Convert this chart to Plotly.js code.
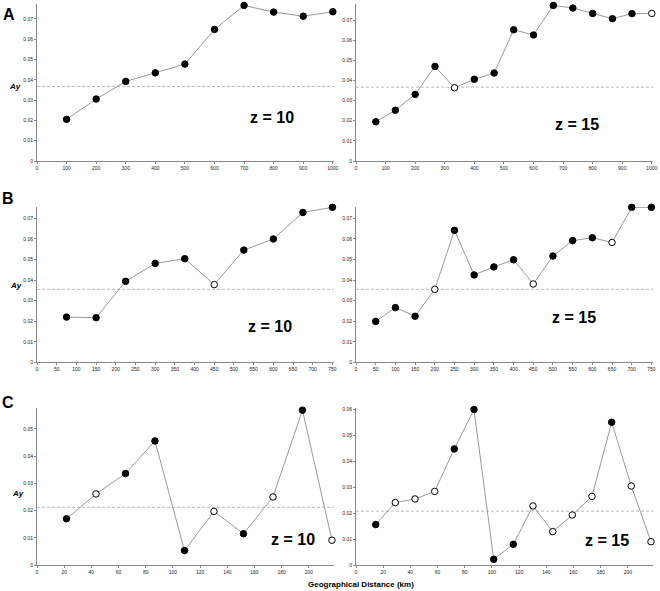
<!DOCTYPE html>
<html><head><meta charset="utf-8">
<script src="https://cdn.plot.ly/plotly-3.0.1.min.js"></script>
<style>html,body{margin:0;padding:0;background:#fff}#chart{width:660px;height:591px}</style>
</head><body><div id="chart"></div>
<script>
// ---- data ----
const xA10 = [100,200,300,400,500,600,700,800,900,1000];
const yA10 = [0.0205,0.0305,0.0392,0.0434,0.0477,0.0648,0.0766,0.0733,0.0713,0.0735];
const openA10 = [0,0,0,0,0,0,0,0,0,0];
const xA15 = [67,133,200,267,333,400,467,533,600,667,733,800,867,933,1000];
const yA15 = [0.0195,0.0252,0.0331,0.0470,0.0364,0.0406,0.0437,0.0652,0.0626,0.0773,0.0760,0.0733,0.0707,0.0732,0.0733];
const openA15 = [0,0,0,0,1,0,0,0,0,0,0,0,0,0,1];
const meanA = 0.0367;

const xB10 = [75,150,225,300,375,450,525,600,675,750];
const yB10 = [0.0220,0.0217,0.0394,0.0481,0.0504,0.0378,0.0546,0.0600,0.0729,0.0754];
const openB10 = [0,0,0,0,0,1,0,0,0,0];
const xB15 = [50,100,150,200,250,300,350,400,450,500,550,600,650,700,750];
const yB15 = [0.0199,0.0266,0.0224,0.0355,0.0642,0.0425,0.0464,0.0499,0.0381,0.0517,0.0592,0.0606,0.0583,0.0754,0.0754];
const openB15 = [0,0,0,1,0,0,0,0,1,0,0,0,1,0,0];
const meanB = 0.0355;

const xC10 = [21.7,43.4,65.1,86.8,108.5,130.2,151.9,173.6,195.3,217];
const yC10 = [0.0170,0.0261,0.0336,0.0456,0.0053,0.0197,0.0115,0.0250,0.0569,0.0091];
const openC10 = [0,1,0,0,0,1,0,1,0,1];
const meanC10 = 0.0212;
const xC15 = [14.5,28.9,43.4,57.9,72.3,86.8,101.3,115.7,130.2,144.7,159.1,173.6,188.1,202.5,217];
const yC15 = [0.0156,0.0241,0.0255,0.0284,0.0448,0.0600,0.0022,0.0080,0.0228,0.0129,0.0193,0.0265,0.0551,0.0305,0.0090];
const openC15 = [0,1,1,1,0,0,0,0,1,1,1,1,0,1,1];
const meanC15 = 0.0208;

const panelLetters = ['A','B','C'];
const zLabels = ['z = 10','z = 15'];
const yLabel = 'Ay';
const xLabel = 'Geographical Distance (km)';

// ---- layout helpers ----
const W = 660, H = 591;
const px = x => x / W;
const py = y => 1 - y / H;

const panels = [
  {x:xA10,y:yA10,open:openA10,mean:meanA, xr:[0,1004],yr:[0,0.0773],dx:100,col:0,row:0,z:0,zpos:[272,117]},
  {x:xA15,y:yA15,open:openA15,mean:meanA, xr:[0,1004],yr:[0,0.0780],dx:100,col:1,row:0,z:1,zpos:[577,124]},
  {x:xB10,y:yB10,open:openB10,mean:meanB, xr:[0,754],yr:[0,0.0757],dx:50,col:0,row:1,z:0,zpos:[270,326]},
  {x:xB15,y:yB15,open:openB15,mean:meanB, xr:[0,754],yr:[0,0.0757],dx:50,col:1,row:1,z:1,zpos:[574,317]},
  {x:xC10,y:yC10,open:openC10,mean:meanC10, xr:[0,218.5],yr:[0,0.0577],dx:20,col:0,row:2,z:0,zpos:[293,539]},
  {x:xC15,y:yC15,open:openC15,mean:meanC15, xr:[0,218.5],yr:[0,0.0606],dx:20,col:1,row:2,z:1,zpos:[607,540]}
];
const colPx = [[37,334],[356,653]];
const rowPx = [[4,161],[206.7,362.3],[408,565]];

const traces = [];
const layout = {
  width: W, height: H, margin:{l:0,r:0,t:0,b:0},
  paper_bgcolor:'#fff', plot_bgcolor:'#fff', showlegend:false,
  font:{family:'Liberation Sans, Arial, sans-serif', color:'#000'},
  annotations:[], shapes:[]
};

panels.forEach((p,i) => {
  const n = i + 1;
  const xa = 'x' + (n===1?'':n), ya = 'y' + (n===1?'':n);
  const xk = 'xaxis' + (n===1?'':n), yk = 'yaxis' + (n===1?'':n);
  traces.push({
    type:'scatter', mode:'lines+markers', x:p.x, y:p.y, xaxis:xa, yaxis:ya,
    line:{color:'#9a9a9a', width:1},
    marker:{size:6.5, color:p.open.map(o => o ? '#ffffff' : '#000000'),
            line:{color:'#000', width:1}},
    cliponaxis:false, hoverinfo:'skip'
  });
  const c = colPx[p.col], r = rowPx[p.row];
  const axFont = {size:5, color:'#222', family:'Liberation Sans, Arial, sans-serif'};
  layout[xk] = {domain:[px(c[0]),px(c[1])], range:p.xr, anchor:ya, dtick:p.dx, tick0:0,
    showline:true, linecolor:'#888', linewidth:1, showgrid:false, zeroline:false,
    ticks:'outside', ticklen:2, tickcolor:'#888', tickfont:axFont, fixedrange:true};
  layout[yk] = {domain:[py(r[1]),py(r[0])], range:p.yr, anchor:xa, dtick:0.01, tick0:0,
    showline:true, linecolor:'#888', linewidth:1, showgrid:false, zeroline:false,
    ticks:'outside', ticklen:2, tickcolor:'#888', tickfont:axFont, fixedrange:true};
  layout.shapes.push({type:'line', xref:xa+' domain', yref:ya, x0:0, x1:1, y0:p.mean, y1:p.mean,
    line:{color:'#bbbbbb', width:1, dash:'3px,2px'}, layer:'below'});
  layout.annotations.push({xref:'paper', yref:'paper', x:px(p.zpos[0]), y:py(p.zpos[1]),
    text:'<b>'+zLabels[p.z]+'</b>', showarrow:false, xanchor:'center', yanchor:'middle',
    font:{size:16, color:'#000', family:'Liberation Sans, Arial, sans-serif'}});
});

const letterPos = [[9,15],[8,199],[8,402]];
const ayPos = [[15,86],[16,285],[18,493]];
panelLetters.forEach((L,k) => {
  layout.annotations.push({xref:'paper', yref:'paper', x:px(letterPos[k][0]), y:py(letterPos[k][1]),
    text:'<b>'+L+'</b>', showarrow:false, xanchor:'center', yanchor:'middle',
    font:{size:16, color:'#000', family:'Liberation Sans, Arial, sans-serif'}});
  layout.annotations.push({xref:'paper', yref:'paper', x:px(ayPos[k][0]), y:py(ayPos[k][1]),
    text:'<b><i>'+yLabel+'</i></b>', showarrow:false, xanchor:'center', yanchor:'middle',
    font:{size:8, color:'#000', family:'Liberation Sans, Arial, sans-serif'}});
});
layout.annotations.push({xref:'paper', yref:'paper', x:px(361), y:py(584),
  text:'<b>'+xLabel+'</b>', showarrow:false, xanchor:'center', yanchor:'middle',
  font:{size:8, color:'#000', family:'Liberation Sans, Arial, sans-serif'}});

Plotly.newPlot('chart', traces, layout, {staticPlot:true, displayModeBar:false});
</script>
</body></html>
